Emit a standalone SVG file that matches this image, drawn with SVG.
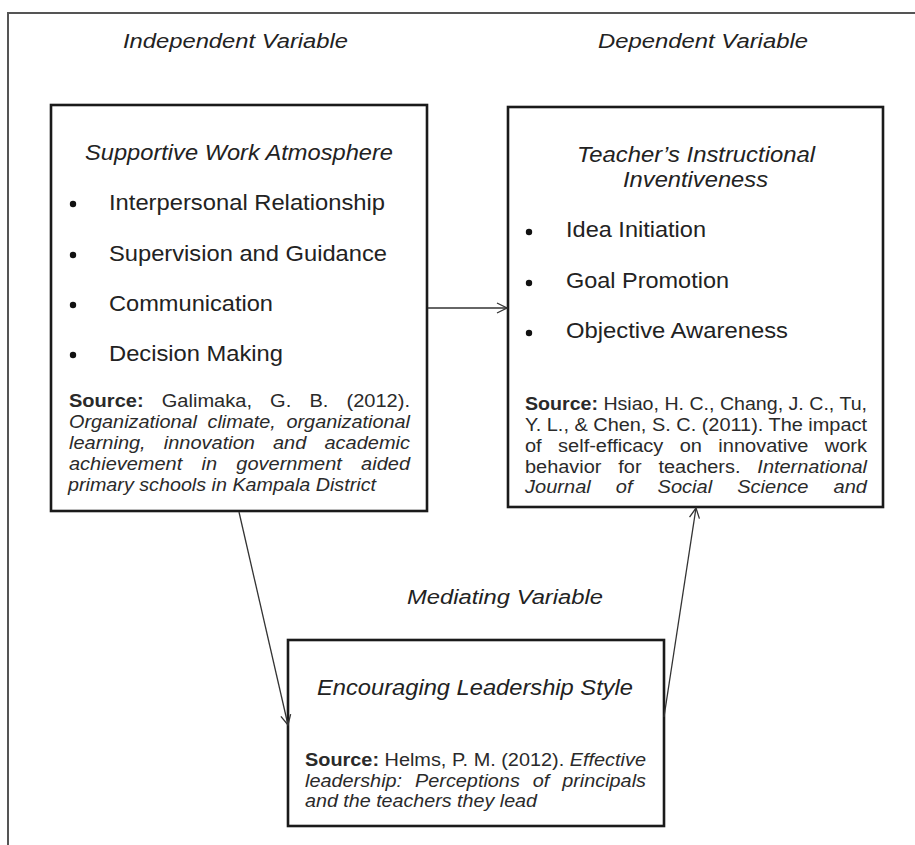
<svg xmlns="http://www.w3.org/2000/svg" width="915" height="845" viewBox="0 0 915 845">
<defs>
<style>
text{font-family:"Liberation Sans",Arial,sans-serif;fill:#222}
.hd{font-size:20px;font-style:italic}
.ti{font-size:21.5px;font-style:italic}
.it{font-size:21.5px}
.src{font-size:17.5px;fill:#2a2a2a}
.b{font-weight:bold}
.i{font-style:italic}
.box{fill:#fff;stroke:#1a1a1a;stroke-width:2.6}
.frame{stroke:#555;stroke-width:2;fill:none}
.conn{stroke:#333;stroke-width:1.3;fill:none}
.dot{fill:#111}
</style>
<marker id="ah" viewBox="0 0 12 12" refX="11" refY="6" markerWidth="12" markerHeight="12" markerUnits="userSpaceOnUse" orient="auto">
<path d="M1,1 L11,6 L1,11" fill="none" stroke="#333" stroke-width="1.3"/>
</marker>
</defs>
<rect width="915" height="845" fill="#fff"/>
<path class="frame" d="M8,845 L8,13 L915,13"/>

<g id="labels">
<text class="hd" x="123" y="48" textLength="225" lengthAdjust="spacingAndGlyphs">Independent Variable</text>
<text class="hd" x="598" y="48" textLength="210" lengthAdjust="spacingAndGlyphs">Dependent Variable</text>
<text class="hd" x="407" y="604" textLength="196" lengthAdjust="spacingAndGlyphs">Mediating Variable</text>
</g>

<g id="node-supportive">
<rect class="box" x="51" y="105" width="376" height="406"/>
<text class="ti" x="85" y="160" textLength="308" lengthAdjust="spacingAndGlyphs">Supportive Work Atmosphere</text>
<circle class="dot" cx="73" cy="204" r="3.2"/>
<circle class="dot" cx="73" cy="255" r="3.2"/>
<circle class="dot" cx="73" cy="305" r="3.2"/>
<circle class="dot" cx="73" cy="355" r="3.2"/>
<text class="it" x="109" y="210" textLength="276" lengthAdjust="spacingAndGlyphs">Interpersonal Relationship</text>
<text class="it" x="109" y="261" textLength="278" lengthAdjust="spacingAndGlyphs">Supervision and Guidance</text>
<text class="it" x="109" y="311" textLength="164" lengthAdjust="spacingAndGlyphs">Communication</text>
<text class="it" x="109" y="361" textLength="174" lengthAdjust="spacingAndGlyphs">Decision Making</text>
<text class="src" x="69" y="407" textLength="341" lengthAdjust="spacingAndGlyphs" style="word-spacing:11px"><tspan class="b">Source:</tspan> Galimaka, G. B. (2012).</text>
<text class="src i" x="69" y="428" textLength="341" lengthAdjust="spacingAndGlyphs" style="word-spacing:4.5px">Organizational climate, organizational</text>
<text class="src i" x="69" y="449" textLength="341" lengthAdjust="spacingAndGlyphs" style="word-spacing:11px">learning, innovation and academic</text>
<text class="src i" x="69" y="470" textLength="341" lengthAdjust="spacingAndGlyphs" style="word-spacing:12px">achievement in government aided</text>
<text class="src i" x="68" y="491" textLength="308" lengthAdjust="spacingAndGlyphs">primary schools in Kampala District</text>
</g>

<g id="node-teacher">
<rect class="box" x="508" y="107" width="375" height="400"/>
<text class="ti" x="577" y="162" textLength="238" lengthAdjust="spacingAndGlyphs">Teacher’s Instructional</text>
<text class="ti" x="623" y="187" textLength="145" lengthAdjust="spacingAndGlyphs">Inventiveness</text>
<circle class="dot" cx="529" cy="232" r="3.2"/>
<circle class="dot" cx="529" cy="283" r="3.2"/>
<circle class="dot" cx="529" cy="333" r="3.2"/>
<text class="it" x="566" y="237" textLength="140" lengthAdjust="spacingAndGlyphs">Idea Initiation</text>
<text class="it" x="566" y="288" textLength="163" lengthAdjust="spacingAndGlyphs">Goal Promotion</text>
<text class="it" x="566" y="338" textLength="222" lengthAdjust="spacingAndGlyphs">Objective Awareness</text>
<text class="src" x="525" y="410" textLength="342" lengthAdjust="spacingAndGlyphs"><tspan class="b">Source:</tspan> Hsiao, H. C., Chang, J. C., Tu,</text>
<text class="src" x="525" y="431" textLength="342" lengthAdjust="spacingAndGlyphs">Y. L., &amp; Chen, S. C. (2011). The impact</text>
<text class="src" x="525" y="452" textLength="342" lengthAdjust="spacingAndGlyphs" style="word-spacing:9.5px">of self-efficacy on innovative work</text>
<text class="src" x="525" y="473" textLength="342" lengthAdjust="spacingAndGlyphs" style="word-spacing:10px">behavior for teachers. <tspan class="i">International</tspan></text>
<text class="src i" x="525" y="493" textLength="342" lengthAdjust="spacingAndGlyphs" style="word-spacing:17px">Journal of Social Science and</text>
</g>

<g id="node-encouraging">
<rect class="box" x="288" y="640" width="376" height="186"/>
<text class="ti" x="317" y="695" textLength="316" lengthAdjust="spacingAndGlyphs">Encouraging Leadership Style</text>
<text class="src" x="305" y="766" textLength="341" lengthAdjust="spacingAndGlyphs"><tspan class="b">Source:</tspan> Helms, P. M. (2012). <tspan class="i">Effective</tspan></text>
<text class="src i" x="305" y="787" textLength="341" lengthAdjust="spacingAndGlyphs" style="word-spacing:6.5px">leadership: Perceptions of principals</text>
<text class="src i" x="305" y="807" textLength="232" lengthAdjust="spacingAndGlyphs">and the teachers they lead</text>
</g>

<g id="connectors">
<line class="conn" x1="428" y1="308" x2="507" y2="308" marker-end="url(#ah)"/>
<line class="conn" x1="239" y1="512" x2="288" y2="725" marker-end="url(#ah)"/>
<line class="conn" x1="664" y1="717" x2="696" y2="508" marker-end="url(#ah)"/>
</g>
</svg>
